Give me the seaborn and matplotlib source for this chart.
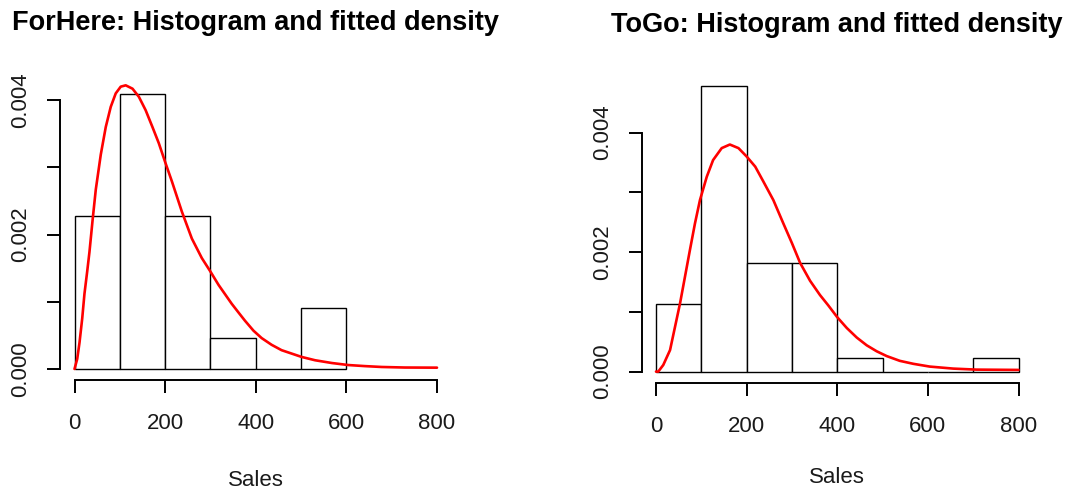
import numpy as np
import pandas as pd
import matplotlib
matplotlib.use("Agg")
import matplotlib.pyplot as plt
import seaborn as sns

# histogram counts per 100-wide bin (Sales)
forhere_edges = [0, 100, 200, 300, 400, 500, 600]
forhere_counts = [5, 9, 5, 1, 0, 2]
togo_edges = [0, 100, 200, 300, 400, 500, 600, 700, 800]
togo_counts = [5, 21, 8, 8, 1, 0, 0, 1]

# fitted density curves
forhere_x = [0, 6, 11, 17, 22, 28, 33, 40, 47, 58, 69, 80, 91, 102, 113, 128, 142, 157, 172, 186,
             201, 215, 237, 259, 281, 299, 318, 347, 362, 376, 395, 413, 435, 457, 479,
             501, 531, 568, 604, 641, 678, 729, 800]
forhere_y = [0, 0.00015, 0.00039, 0.00075, 0.00112, 0.00145, 0.00174, 0.00222, 0.00267, 0.00319,
             0.0036, 0.0039, 0.0041, 0.0042, 0.00422, 0.00417, 0.00405, 0.00385, 0.0036, 0.00336,
             0.00306, 0.00279, 0.00234, 0.00194, 0.00165, 0.00146, 0.00125, 0.00097, 0.00084,
             0.00072, 0.00057, 0.00046, 0.00036, 0.00028, 0.00023, 0.00018, 0.00013,
             0.000089, 0.000059, 0.000043, 0.00003, 0.000022, 0.00002]
togo_x = [0, 5, 16, 31, 42, 53, 64, 75, 86, 97, 112, 126, 145, 163, 182, 200, 219, 237,
          259, 281, 300, 318, 340, 362, 380, 400, 421, 443, 465, 487, 509, 538, 568, 604,
          656, 707, 800]
togo_y = [0, 0, 0.00011, 0.00036, 0.00075, 0.00114, 0.00159, 0.00204, 0.00248, 0.00287,
          0.00326, 0.00354, 0.00374, 0.0038, 0.00374, 0.0036, 0.00343, 0.00318, 0.00287,
          0.00248, 0.00215, 0.00182, 0.00152, 0.00128, 0.00111, 0.00091, 0.00073, 0.00057,
          0.00044, 0.00034, 0.00026, 0.00018, 0.00013, 0.000084, 0.00005, 0.000033, 0.000028]

sns.set_style("white")
plt.rcParams["font.family"] = ["Liberation Sans", "DejaVu Sans"]

fig = plt.figure(figsize=(10.7, 4.9), dpi=100)

panels = [
    ("ForHere", forhere_edges, forhere_counts, forhere_x, forhere_y,
     [60 / 1070, 110 / 490, 391.5 / 1070, 297 / 490], 38, 26),
    ("ToGo", togo_edges, togo_counts, togo_x, togo_y,
     [641.5 / 1070, 107 / 490, 391.5 / 1070, 308 / 490], 31, 22),
]

for name, edges, counts, cx, cy, rect, tpad, xpad in panels:
    ax = fig.add_axes(rect)
    centers = [(a + b) / 2 for a, b in zip(edges[:-1], edges[1:])]
    df = pd.DataFrame({"Sales": centers, "n": counts})
    sns.histplot(data=df, x="Sales", weights="n", bins=list(edges), stat="density",
                 color="white", edgecolor="black", linewidth=1.0, alpha=1, ax=ax)
    sns.lineplot(x=cx, y=cy, color="red", linewidth=1.9, ax=ax)

    # R-style axis limits (4% padding)
    dmax = max(counts) / (sum(counts) * 100)
    ax.set_xlim(-0.04 * 800, 800 * 1.04)
    ax.set_ylim(-0.04 * dmax, dmax * 1.04)

    for s in ["top", "right"]:
        ax.spines[s].set_visible(False)
    for s in ["left", "bottom"]:
        ax.spines[s].set_linewidth(1.4)
        ax.spines[s].set_color("black")
    ax.spines["bottom"].set_bounds(0, 800)
    ax.spines["left"].set_bounds(0, 0.004)

    ax.set_xticks([0, 200, 400, 600, 800])
    ax.set_yticks([0, 0.001, 0.002, 0.003, 0.004])
    ax.set_yticklabels(["0.000", "", "0.002", "", "0.004"], va="center")
    ax.tick_params(axis="both", bottom=True, left=True, direction="out", length=9.5,
                   width=1.4, colors="black", labelsize=16, labelcolor="#1a1a1a")
    ax.tick_params(axis="x", pad=14)
    ax.tick_params(axis="y", pad=11, labelrotation=90)

    ax.set_xlabel("Sales", fontsize=16, labelpad=xpad, color="#1a1a1a")
    ax.set_ylabel("")
    ax.set_title(f"{name}: Histogram and fitted density", fontsize=19.5,
                 fontweight="bold", pad=tpad, color="black")

fig.savefig("out.png", dpi=100)
